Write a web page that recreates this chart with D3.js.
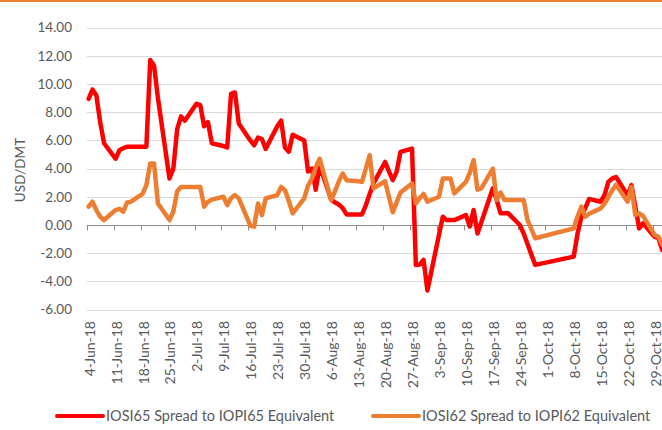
<!DOCTYPE html>
<html lang="en">
<head>
  <meta charset="UTF-8">
  <title>IOSI spreads</title>
  <style>
    body { margin: 0; background: #fff; }
    text { font-family: Lato, "Open Sans", sans-serif; fill: #595959; }
  </style>
</head>
<body>
<script src="https://cdn.jsdelivr.net/npm/d3@7"></script>
<script>
const width = 662, height = 430

// business days (data gaps are joined by straight lines, like excel does)
const dates = [
  "2018-06-04","2018-06-05","2018-06-06","2018-06-07","2018-06-08",
  "2018-06-11","2018-06-12","2018-06-13","2018-06-14","2018-06-15",
  "2018-06-18","2018-06-19","2018-06-20","2018-06-21","2018-06-22",
  "2018-06-25","2018-06-26","2018-06-27","2018-06-28","2018-06-29",
  "2018-07-02","2018-07-03","2018-07-04","2018-07-05","2018-07-06",
  "2018-07-09","2018-07-10","2018-07-11","2018-07-12","2018-07-13",
  "2018-07-16","2018-07-17","2018-07-18","2018-07-19","2018-07-20",
  "2018-07-23","2018-07-24","2018-07-25","2018-07-26","2018-07-27",
  "2018-07-30","2018-07-31","2018-08-01","2018-08-02","2018-08-03",
  "2018-08-06","2018-08-07","2018-08-08","2018-08-09","2018-08-10",
  "2018-08-13","2018-08-14","2018-08-15","2018-08-16","2018-08-17",
  "2018-08-20","2018-08-21","2018-08-22","2018-08-23","2018-08-24",
  "2018-08-27","2018-08-28","2018-08-29","2018-08-30","2018-08-31",
  "2018-09-03","2018-09-04","2018-09-05","2018-09-06","2018-09-07",
  "2018-09-10","2018-09-11","2018-09-12","2018-09-13","2018-09-14",
  "2018-09-17","2018-09-18","2018-09-19","2018-09-20","2018-09-21",
  "2018-09-24","2018-09-25","2018-09-26","2018-09-27","2018-09-28",
  "2018-10-08","2018-10-09","2018-10-10","2018-10-11","2018-10-12",
  "2018-10-15","2018-10-16","2018-10-17","2018-10-18","2018-10-19",
  "2018-10-22","2018-10-23","2018-10-24","2018-10-25","2018-10-26",
  "2018-10-29","2018-10-30","2018-10-31"
]

const iosi65 = [
  8.95, 9.6, 9.2, 7.3, 5.8,
  4.7, 5.3, 5.45, 5.55, 5.55,
  5.55, 5.55, 11.7, 11.3, 9.0,
  3.3, 4.0, 6.8, 7.7, 7.4,
  8.6, 8.5, 7.0, 7.3, 5.8,
  5.6, 5.5, 9.3, 9.4, 7.2,
  6.0, 5.65, 6.2, 6.1, 5.4,
  7.0, 7.4, 5.5, 5.2, 6.4,
  6.0, 3.8, 4.0, 2.5, 4.2,
  1.8, 1.6, 1.45, 1.2, 0.75,
  0.75, 0.75, 1.4, 2.2, 2.95,
  4.47, 3.8, 3.18, 3.77, 5.18,
  5.42, -2.83, -2.8, -2.47, -4.65,
  -0.7, 0.59, 0.35, 0.35, 0.35,
  0.7, -0.1, 1.06, -0.6, 0.2,
  2.6, 1.77, 0.83, 0.83, 0.83,
  0.0, -0.6, -1.35, -2.1, -2.83,
  -2.24, -0.6, 0.6, 1.2, 1.85,
  1.65, 2.12, 3.06, 3.3, 3.4,
  2.1, 2.83, 1.3, -0.24, 0.12,
  -0.83, -0.94, -1.77
]

const iosi62 = [
  1.3, 1.65, 1.06, 0.6, 0.35,
  1.06, 1.15, 0.95, 1.6, 1.65,
  2.2, 2.83, 4.36, 4.36, 1.53,
  0.35, 0.94, 2.4, 2.7, 2.7,
  2.7, 2.7, 1.3, 1.65, 1.8,
  2.0, 1.41, 1.9, 2.12, 1.89,
  -0.05, -0.12, 1.53, 0.7, 1.89,
  2.12, 2.7, 2.47, 1.7, 0.83,
  1.89, 2.8, 3.3, 4.1, 4.7,
  1.77, 2.4, 3.1, 3.65, 3.18,
  3.1, 3.06, 4.0, 4.95, 2.6,
  3.1, 2.0, 0.9, 1.6, 2.3,
  2.95, 1.53, 1.9, 2.2, 1.65,
  2.0, 3.3, 3.3, 3.3, 2.24,
  3.06, 3.7, 4.6, 2.5, 2.6,
  4.0, 1.77, 2.3, 1.77, 1.77,
  1.77, 1.77, 0.35, -0.3, -0.94,
  -0.24, 0.6, 1.3, 0.59, 0.8,
  1.18, 1.5, 2.0, 2.45, 2.85,
  1.65, 2.7, 0.7, 0.83, 0.65,
  -0.7, -0.83, -1.4
]

const yTicks = [-6, -4, -2, 0, 2, 4, 6, 8, 10, 12, 14]
const seriesNames = ["IOSI65 Spread to IOPI65 Equivalent", "IOSI62 Spread to IOPI62 Equivalent"]
const seriesColors = ["#ff0000", "#ed7d31"]
const yTitle = "USD/DMT"

const parse = d3.utcParse("%Y-%m-%d")
const fmtTick = d3.utcFormat("%-d-%b-%y")

const svg = d3.select("body").append("svg")
  .attr("width", width)
  .attr("height", height)

// orange frame edge at the very top
svg.append("line")
  .attr("x1", 0).attr("x2", width)
  .attr("y1", 1).attr("y2", 1)
  .attr("stroke", "#ed7d31").attr("stroke-width", 2)

const x = d3.scaleUtc()
  .domain([parse("2018-06-04"), parse("2018-11-03")])
  .range([86.7, 86.7 + 3.85 * 152])

const y = d3.scaleLinear()
  .domain([-6, 14])
  .range([309.6, 27.6])

// points sit in the middle of their day
const px = d => x(d3.utcHour.offset(d, 12))

// gridlines
svg.append("g").selectAll("line")
  .data(yTicks)
  .enter().append("line")
  .attr("x1", 87).attr("x2", width)
  .attr("y1", d => Math.round(y(d)) + 0.5)
  .attr("y2", d => Math.round(y(d)) + 0.5)
  .attr("stroke", "#d9d9d9")

// y labels
svg.append("g").selectAll("text")
  .data(yTicks)
  .enter().append("text")
  .attr("x", 72)
  .attr("y", d => y(d))
  .attr("dy", "0.35em")
  .attr("text-anchor", "end")
  .style("font-size", "13.5px")
  .text(d => d.toFixed(2))

svg.append("text")
  .attr("transform", "translate(20,170) rotate(-90)")
  .attr("text-anchor", "middle")
  .attr("dy", "0.35em")
  .style("font-size", "13.5px")
  .text(yTitle)

// zero axis with weekly ticks
const weeks = d3.utcMonday.range(parse("2018-06-04"), parse("2018-11-01"))
const y0 = Math.round(y(0)) + 0.5

svg.append("line")
  .attr("x1", 86.7).attr("x2", width)
  .attr("y1", y0).attr("y2", y0)
  .attr("stroke", "#8c8c8c")

svg.append("g").selectAll("line")
  .data(weeks)
  .enter().append("line")
  .attr("x1", d => Math.round(x(d)) + 0.5)
  .attr("x2", d => Math.round(x(d)) + 0.5)
  .attr("y1", y0).attr("y2", y0 + 5)
  .attr("stroke", "#8c8c8c")

// date labels, low position under the plot
svg.append("g").selectAll("text")
  .data(weeks)
  .enter().append("text")
  .attr("transform", d => "translate(" + (x(d) + 3) + ",321) rotate(-90)")
  .attr("dy", "0.35em")
  .attr("text-anchor", "end")
  .style("font-size", "14px")
  .text(d => fmtTick(d))

// lines
const rows = dates.map((d, i) => ({date: parse(d), a: iosi65[i], b: iosi62[i]}))

const line = key => d3.line()
  .x(d => px(d.date))
  .y(d => y(d[key]))

svg.append("path")
  .datum(rows)
  .attr("d", line("a"))
  .attr("fill", "none")
  .attr("stroke", seriesColors[0])
  .attr("stroke-width", 4.5)
  .attr("stroke-linejoin", "round")
  .attr("stroke-linecap", "round")

svg.append("path")
  .datum(rows)
  .attr("d", line("b"))
  .attr("fill", "none")
  .attr("stroke", seriesColors[1])
  .attr("stroke-width", 4.5)
  .attr("stroke-linejoin", "round")
  .attr("stroke-linecap", "round")

// legend
const legendX = [57, 373]
const legend = svg.append("g").selectAll("g")
  .data(seriesNames)
  .enter().append("g")
  .attr("transform", (d, i) => "translate(" + legendX[i] + ",416)")

legend.append("line")
  .attr("x1", 0).attr("x2", 46)
  .attr("stroke", (d, i) => seriesColors[i])
  .attr("stroke-width", 4)
  .attr("stroke-linecap", "round")

legend.append("text")
  .attr("x", 49)
  .attr("dy", "0.35em")
  .style("font-size", "14.5px")
  .text(d => d)
</script>
</body>
</html>
